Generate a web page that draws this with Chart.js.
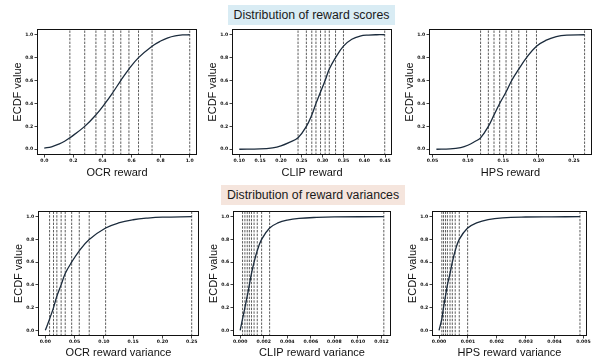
<!DOCTYPE html>
<html>
<head>
<meta charset="utf-8">
<script src="https://cdn.jsdelivr.net/npm/chart.js@4.4.0/dist/chart.umd.min.js"></script>
<style>
  body { margin: 0; background: #fff; width: 599px; height: 360px; position: relative; overflow: hidden; font-family: "Liberation Sans", Arial, sans-serif; }
  canvas { position: absolute; }
  .banner { position: absolute; font-size: 12.3px; color: #1a1a1a; text-align: center; height: 20px; line-height: 20px; }
  #scoresTitle { left: 228px; top: 5px; width: 167px; background: #d9ecf4; }
  #varTitle { left: 221px; top: 185px; width: 184px; background: #f5e5dd; }
</style>
</head>
<body>
<div class="banner" id="scoresTitle">Distribution of reward scores</div>
<div class="banner" id="varTitle">Distribution of reward variances</div>
<canvas id="ocr"></canvas>
<canvas id="clip"></canvas>
<canvas id="hps"></canvas>
<canvas id="ocrVar"></canvas>
<canvas id="clipVar"></canvas>
<canvas id="hpsVar"></canvas>
<script>
// ECDF axis
const yTicks = [0, 0.2, 0.4, 0.6, 0.8, 1.0];

// OCR reward
const ocrX = [0, 0.05, 0.10, 0.14, 0.176, 0.278, 0.355, 0.418, 0.474, 0.526, 0.582, 0.648, 0.741, 0.80, 0.85, 0.90, 0.95, 1.0];
const ocrY = [0.01, 0.022, 0.045, 0.07, 0.1, 0.2, 0.3, 0.4, 0.5, 0.6, 0.7, 0.8, 0.9, 0.945, 0.973, 0.99, 0.998, 1.0];
const ocrLines = [0.176, 0.278, 0.355, 0.418, 0.474, 0.526, 0.582, 0.648, 0.741, 1.0];
const ocrTicks = [0, 0.2, 0.4, 0.6, 0.8, 1.0];

// CLIP reward
const clipX = [0.100, 0.15, 0.18, 0.20, 0.22, 0.241, 0.261, 0.274, 0.284, 0.295, 0.306, 0.316, 0.331, 0.350, 0.37, 0.39, 0.41, 0.43, 0.449];
const clipY = [0, 0.003, 0.013, 0.03, 0.06, 0.1, 0.2, 0.3, 0.4, 0.5, 0.6, 0.7, 0.8, 0.9, 0.96, 0.988, 0.997, 1.0, 1.0];
const clipLines = [0.241, 0.261, 0.274, 0.284, 0.295, 0.306, 0.316, 0.331, 0.350, 0.449];
const clipTicks = [0.10, 0.15, 0.20, 0.25, 0.30, 0.35, 0.40, 0.45];

// HPS reward
const hpsX = [0.0556, 0.075, 0.09, 0.10, 0.11, 0.118, 0.129, 0.137, 0.145, 0.154, 0.162, 0.172, 0.183, 0.197, 0.21, 0.225, 0.24, 0.265];
const hpsY = [0, 0.003, 0.015, 0.035, 0.068, 0.1, 0.2, 0.3, 0.4, 0.5, 0.6, 0.7, 0.8, 0.9, 0.95, 0.983, 0.996, 1.0];
const hpsLines = [0.118, 0.129, 0.137, 0.145, 0.154, 0.162, 0.172, 0.183, 0.197, 0.265];
const hpsTicks = [0.05, 0.10, 0.15, 0.20, 0.25];

// OCR reward variance
const ocrVarX = [0, 0.0073, 0.014, 0.0197, 0.027, 0.034, 0.045, 0.058, 0.075, 0.103, 0.125, 0.15, 0.175, 0.20, 0.25];
const ocrVarY = [0, 0.1, 0.2, 0.3, 0.4, 0.5, 0.6, 0.7, 0.8, 0.9, 0.945, 0.973, 0.988, 0.996, 1.0];
const ocrVarLines = [0.0073, 0.014, 0.0197, 0.027, 0.034, 0.045, 0.058, 0.075, 0.103, 0.25];
const ocrVarTicks = [0, 0.05, 0.10, 0.15, 0.20, 0.25];

// CLIP reward variance
const clipVarX = [0, 0.0002, 0.0004, 0.0006, 0.00078, 0.00096, 0.00118, 0.00145, 0.00182, 0.0025, 0.0032, 0.004, 0.005, 0.0065, 0.008, 0.0122];
const clipVarY = [0, 0.1, 0.2, 0.3, 0.4, 0.5, 0.6, 0.7, 0.8, 0.9, 0.945, 0.97, 0.985, 0.994, 0.998, 1.0];
const clipVarLines = [0.0002, 0.0004, 0.0006, 0.00078, 0.00096, 0.00118, 0.00145, 0.00182, 0.0025, 0.0122];
const clipVarTicks = [0, 0.002, 0.004, 0.006, 0.008, 0.010, 0.012];

// HPS reward variance
const hpsVarX = [0, 0.000096, 0.000154, 0.000223, 0.00029, 0.00038, 0.00046, 0.00056, 0.0007, 0.00099, 0.0013, 0.0017, 0.0022, 0.003, 0.0039, 0.00488];
const hpsVarY = [0, 0.1, 0.2, 0.3, 0.4, 0.5, 0.6, 0.7, 0.8, 0.9, 0.945, 0.975, 0.99, 0.997, 0.999, 1.0];
const hpsVarLines = [0.000096, 0.000154, 0.000223, 0.00029, 0.00038, 0.00046, 0.00056, 0.0007, 0.00099, 0.00488];
const hpsVarTicks = [0, 0.001, 0.002, 0.003, 0.004, 0.005];

const tickFont = { family: "DejaVu Sans", size: 4.6, weight: "bold" };
const titleFont = { family: "Liberation Sans", size: 11, lineHeight: 1.2 };

// matplotlib-style box around the plot area
const frame = {
  id: "frame",
  afterDatasetsDraw(chart) {
    const { ctx, chartArea: a } = chart;
    ctx.save();
    ctx.strokeStyle = "#111";
    ctx.lineWidth = 1;
    ctx.strokeRect(a.left + 0.5, a.top + 0.5, a.width - 1, a.height - 1);
    ctx.restore();
  },
};

function makeChart(id, box, xs, ys, lines, ticks, dec, xMin, xMax, label) {
  const el = document.getElementById(id);
  el.width = box.w;
  el.height = box.h;
  el.style.left = box.left + "px";
  el.style.top = box.top + "px";

  const datasets = [{
    data: xs.map((x, i) => ({ x, y: ys[i] })),
    borderColor: "#1b2b3c",
    borderWidth: 1.3,
    pointRadius: 0,
    tension: 0.4,
  }];
  lines.forEach((q) => {
    datasets.push({
      data: [{ x: q, y: -0.05 }, { x: q, y: 1.05 }],
      borderColor: "#333",
      borderWidth: 0.8,
      borderDash: [2.4, 1.3],
      pointRadius: 0,
    });
  });

  new Chart(el, {
    type: "line",
    data: { datasets },
    options: {
      responsive: false,
      animation: false,
      devicePixelRatio: 1,
      layout: { padding: { top: 4, right: 7, left: 0, bottom: 0 } },
      plugins: { legend: { display: false }, tooltip: { enabled: false } },
      scales: {
        x: {
          type: "linear",
          min: xMin,
          max: xMax,
          afterBuildTicks: (s) => { s.ticks = ticks.map((v) => ({ value: v })); },
          afterFit: (s) => { s.height = box.xh; s.paddingLeft = 0; s.paddingRight = 0; },
          ticks: {
            callback: (v) => Number(v).toFixed(dec),
            font: tickFont, color: "#111", padding: 1, maxRotation: 0, autoSkip: false,
          },
          grid: { drawOnChartArea: false, tickLength: 2.5, tickColor: "#111", tickWidth: 0.8 },
          border: { display: false },
          title: { display: true, text: label, font: titleFont, color: "#111", padding: 0 },
        },
        y: {
          min: -0.05,
          max: 1.05,
          afterBuildTicks: (s) => { s.ticks = yTicks.map((v) => ({ value: v })); },
          afterFit: (s) => { s.width = 26; s.paddingTop = 0; s.paddingBottom = 0; },
          ticks: {
            callback: (v) => Number(v).toFixed(1),
            font: tickFont, color: "#111", padding: 1.2, autoSkip: false,
          },
          grid: { drawOnChartArea: false, tickLength: 2.5, tickColor: "#111", tickWidth: 0.8 },
          border: { display: false },
          title: { display: true, text: "ECDF value", font: titleFont, color: "#111", padding: 0 },
        },
      },
    },
    plugins: [frame],
  });
}

makeChart("ocr", { left: 11, top: 25, w: 193, h: 155, xh: 25 }, ocrX, ocrY, ocrLines, ocrTicks, 1, -0.05, 1.05, "OCR reward");
makeChart("clip", { left: 206, top: 25, w: 193, h: 155, xh: 25 }, clipX, clipY, clipLines, clipTicks, 2, 0.08255, 0.46645, "CLIP reward");
makeChart("hps", { left: 403, top: 25, w: 196, h: 155, xh: 25 }, hpsX, hpsY, hpsLines, hpsTicks, 2, 0.04513, 0.27547, "HPS reward");
makeChart("ocrVar", { left: 12, top: 207, w: 194, h: 153, xh: 24 }, ocrVarX, ocrVarY, ocrVarLines, ocrVarTicks, 2, -0.0125, 0.2625, "OCR reward variance");
makeChart("clipVar", { left: 207, top: 207, w: 191, h: 153, xh: 24 }, clipVarX, clipVarY, clipVarLines, clipVarTicks, 3, -0.00061, 0.01281, "CLIP reward variance");
makeChart("hpsVar", { left: 406, top: 207, w: 188, h: 153, xh: 24 }, hpsVarX, hpsVarY, hpsVarLines, hpsVarTicks, 3, -0.000244, 0.005124, "HPS reward variance");
</script>
</body>
</html>
